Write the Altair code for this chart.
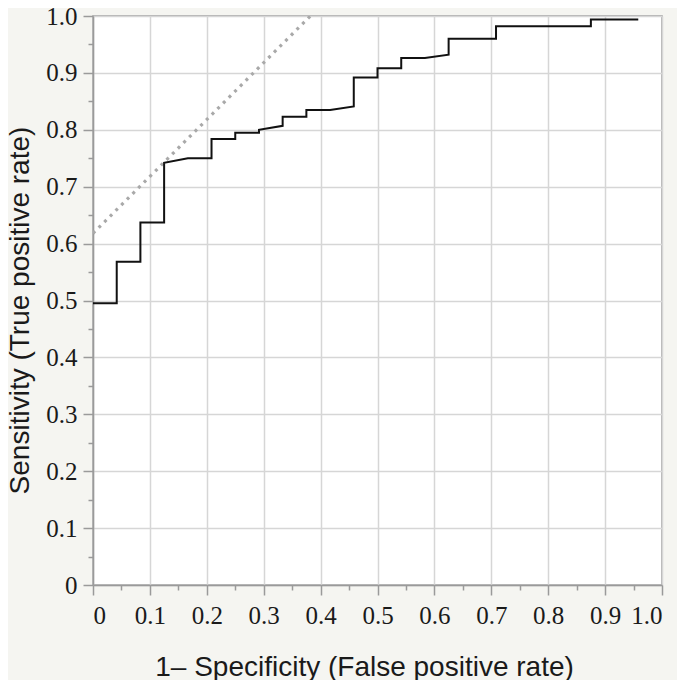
import altair as alt
import pandas as pd

# ROC step curve (1 - specificity, sensitivity)
roc_fpr = [0.0, 0.0417, 0.0417, 0.0833, 0.0833, 0.125, 0.125, 0.1667, 0.2083, 0.2083,
           0.25, 0.25, 0.2917, 0.2917, 0.3333, 0.3333, 0.375, 0.375, 0.4167, 0.4583,
           0.4583, 0.5, 0.5, 0.5417, 0.5417, 0.5833, 0.625, 0.625, 0.7083, 0.7083,
           0.875, 0.875, 0.9583]
roc_tpr = [0.495, 0.495, 0.568, 0.568, 0.637, 0.637, 0.742, 0.75, 0.75, 0.784,
           0.784, 0.795, 0.795, 0.80, 0.807, 0.823, 0.823, 0.835, 0.835, 0.841,
           0.892, 0.892, 0.908, 0.908, 0.926, 0.926, 0.932, 0.96, 0.96, 0.982,
           0.982, 0.994, 0.994]

# dotted tangent reference line
ref_fpr = [0.0, 0.382]
ref_tpr = [0.618, 1.0]

tick_values = [0.0, 0.05, 0.1, 0.15, 0.2, 0.25, 0.3, 0.35, 0.4, 0.45, 0.5,
               0.55, 0.6, 0.65, 0.7, 0.75, 0.8, 0.85, 0.9, 0.95, 1.0]

roc_df = pd.DataFrame({"fpr": roc_fpr, "tpr": roc_tpr, "order": list(range(len(roc_fpr)))})
ref_df = pd.DataFrame({"fpr": ref_fpr, "tpr": ref_tpr, "order": list(range(len(ref_fpr)))})

major = "round(datum.value * 100) % 10 == 0"
label_expr = f"{major} ? (datum.value == 0 ? '0' : format(datum.value, '.1f')) : ''"

def make_axis(title, **kw):
    return alt.Axis(
        values=tick_values,
        labelExpr=label_expr,
        tickSize={"condition": {"test": major, "value": 10}, "value": 5},
        gridOpacity={"condition": {"test": major, "value": 1}, "value": 0},
        title=title,
        **kw,
    )

x_enc = alt.X("fpr:Q", scale=alt.Scale(domain=[0, 1], nice=False, zero=False),
              axis=make_axis("1\u2013 Specificity (False positive rate)",
                             labelPadding=8, titleX=271, titleY=90,
                             titleAlign="center", titleBaseline="alphabetic"))
y_enc = alt.Y("tpr:Q", scale=alt.Scale(domain=[0, 1], nice=False, zero=False),
              axis=make_axis("Sensitivity (True positive rate)",
                             labelPadding=6, titleX=-65, titleY=294,
                             titleAlign="center", titleBaseline="alphabetic",
                             titleAngle=-90))

ref = alt.Chart(ref_df).mark_line(
    color="#a9a9a9", strokeWidth=3.2, strokeDash=[3, 5], clip=True
).encode(x=x_enc, y=y_enc, order="order:Q")

roc = alt.Chart(roc_df).mark_line(
    color="#111111", strokeWidth=2, interpolate="linear"
).encode(x=x_enc, y=y_enc, order="order:Q")

chart = alt.layer(ref, roc).properties(
    width=569, height=569,
    autosize=alt.AutoSizeParams(type="none"),
    padding={"left": 85, "top": 8, "right": 15, "bottom": 95},
    background="#f5f5f1",
).configure_view(
    fill="white", stroke="#9a9a9a", strokeWidth=1.5
).configure_axis(
    domainColor="#9a9a9a", domainWidth=1.5,
    tickColor="#9a9a9a", tickWidth=1.5,
    gridColor="#d6d6d6", gridWidth=1.5,
    labelFont="Liberation Serif", labelFontSize=25, labelColor="#1a1a1a",
    titleFont="Liberation Sans", titleFontSize=28, titleFontWeight="normal",
    titleColor="#1a1a1a",
)

chart.save("out.html", embed_options={"renderer": "svg", "actions": False})
